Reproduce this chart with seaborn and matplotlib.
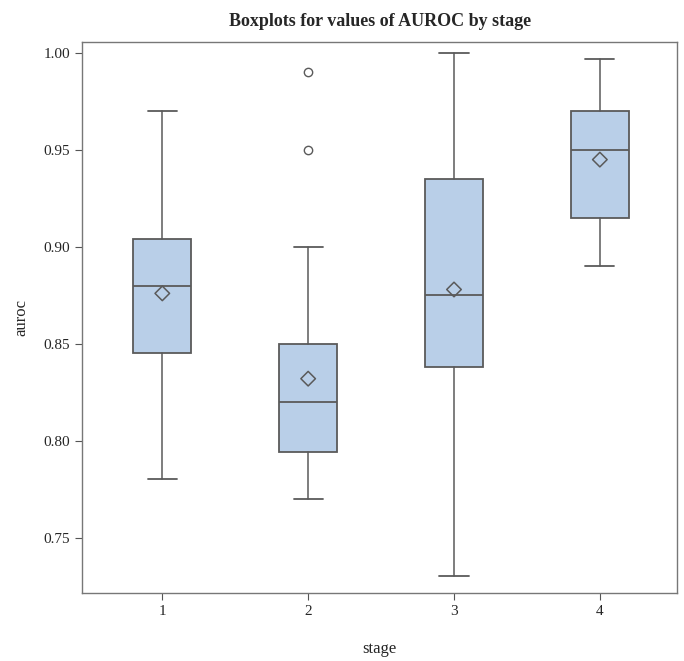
import matplotlib
matplotlib.use("Agg")
import matplotlib.pyplot as plt
import seaborn as sns

# summary statistics
stages = ["1", "2", "3", "4"]
whisker_low = [0.780, 0.770, 0.730, 0.890]
q1 = [0.845, 0.794, 0.838, 0.915]
median = [0.880, 0.820, 0.875, 0.950]
q3 = [0.904, 0.850, 0.935, 0.970]
whisker_high = [0.970, 0.900, 1.000, 0.997]
means = [0.876, 0.832, 0.878, 0.945]
outliers = [[], [0.950, 0.990], [], []]

sns.set_style("white")
plt.rcParams["font.family"] = ["Liberation Serif", "DejaVu Serif"]

fig = plt.figure(figsize=(6.84, 6.61), dpi=100)
ax = fig.add_axes([0.120, 0.103, 0.870, 0.833])

stats = []
for i, s in enumerate(stages):
    stats.append({"label": s, "whislo": whisker_low[i], "q1": q1[i], "med": median[i],
                  "q3": q3[i], "whishi": whisker_high[i], "mean": means[i],
                  "fliers": outliers[i]})

edge = "#5a5a5a"
positions = list(range(1, len(stages) + 1))
ax.bxp(stats, positions=positions, widths=0.395, patch_artist=True, showmeans=False,
       boxprops=dict(facecolor="#b9cfe8", edgecolor=edge, linewidth=1.3),
       medianprops=dict(color=edge, linewidth=1.3),
       whiskerprops=dict(color=edge, linewidth=1.1),
       capprops=dict(color=edge, linewidth=1.3),
       capwidths=0.2,
       flierprops=dict(marker="o", markerfacecolor="none", markeredgecolor=edge,
                       markersize=6, markeredgewidth=1.0))

# mean markers
sns.scatterplot(x=positions, y=means, marker="D", s=55, facecolor="none",
                edgecolor=edge, linewidth=1.1, ax=ax, zorder=5)

ax.set_xlim(0.45, 4.53)
ax.set_ylim(0.7215, 1.0055)
ax.set_xticks(positions)
ax.set_xticklabels(stages)
ax.set_yticks([0.75, 0.80, 0.85, 0.90, 0.95, 1.00])
ax.set_yticklabels(["0.75", "0.80", "0.85", "0.90", "0.95", "1.00"])
ax.tick_params(axis="both", which="both", direction="out", length=5, width=0.8,
               color="#555555", labelsize=11, bottom=True, left=True)
for sp in ax.spines.values():
    sp.set_color("#777777")
    sp.set_linewidth(1.0)

ax.set_xlabel("stage", fontsize=12, labelpad=17)
ax.set_ylabel("auroc", fontsize=12, labelpad=10)
ax.set_title("Boxplots for values of AUROC by stage", fontsize=13, fontweight="bold", pad=12)

fig.savefig("out.png", dpi=100)
